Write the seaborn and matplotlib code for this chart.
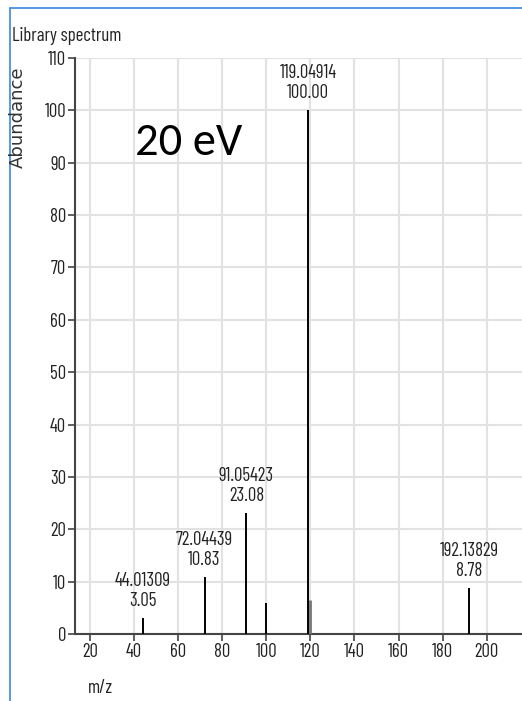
import matplotlib
matplotlib.use("Agg")
import matplotlib.pyplot as plt
from matplotlib.lines import Line2D
import seaborn as sns
import pandas as pd

# ---- data ----
mz_values = [44.01309, 72.04439, 91.05423, 100.0, 119.04914, 120.05, 192.13829]
abundance = [3.05, 10.83, 23.08, 5.9, 100.00, 6.4, 8.78]
labelled = [True, True, True, False, True, False, True]
x_ticks = [20, 40, 60, 80, 100, 120, 140, 160, 180, 200]
y_ticks = [0, 10, 20, 30, 40, 50, 60, 70, 80, 90, 100, 110]

df = pd.DataFrame({"mz": mz_values, "abundance": abundance, "labelled": labelled})

sns.set_theme(style="whitegrid")
NARROW = ["Barlow Condensed", "Archivo Narrow", "DejaVu Sans"]
plt.rcParams["font.family"] = NARROW

W, H = 522, 701
fig = plt.figure(figsize=(W / 100, H / 100), dpi=100)
fig.patch.set_facecolor("white")
ax = fig.add_axes([75 / W, 1 - 634 / H, (W - 75) / W, (634 - 58) / H])
ax.set_facecolor("white")

# stems
main = df[df["mz"] != 120.05]
minor = df[df["mz"] == 120.05]
ax.vlines(main["mz"], 0, main["abundance"], color="black", lw=1.4, zorder=3)
ax.vlines(minor["mz"], 0, minor["abundance"], color="#777777", lw=2.0, zorder=3)

for _, r in df[df["labelled"]].iterrows():
    ax.annotate(f"{r['mz']:.5f}\n{r['abundance']:.2f}", xy=(r["mz"], r["abundance"]),
                xytext=(0, 6.0), textcoords="offset points", ha="center", va="bottom",
                fontsize=13.5, linespacing=1.12, color="#222222", annotation_clip=False)

ax.set_xlim(13.3, 216.0)
ax.set_ylim(0, 110)
ax.set_xticks(x_ticks)
ax.set_yticks(y_ticks)
ax.grid(True, color="#e2e2e2", lw=1.5)
ax.set_axisbelow(True)
for s in ["top", "right"]:
    ax.spines[s].set_visible(False)
for s in ["left", "bottom"]:
    ax.spines[s].set_visible(True)
    ax.spines[s].set_color("#444444")
    ax.spines[s].set_linewidth(1.5)
ax.tick_params(axis="both", direction="out", length=5, width=1.2, color="#444444",
               labelsize=13.5, labelcolor="#222222", pad=1.5,
               left=True, bottom=True)
ax.set_xlabel("")
ax.set_ylabel("")

# figure texts
fig.text(12 / W, 1 - 41 / H, "Library spectrum", fontsize=13.5, color="#222222",
         va="baseline", ha="left")
fig.text(18 / W, 1 - 117 / H, "Abundance", rotation=90, fontsize=13,
         family=["DejaVu Sans"], color="#333333",
         ha="center", va="center")
fig.text(88 / W, 1 - 688 / H, "m/z", fontsize=13.5, color="#222222", ha="left", va="center")
fig.text(135 / W, 1 - 155 / H, "20 eV", fontsize=33.5, family=["Carlito", "DejaVu Sans"],
         color="black", ha="left", va="baseline")

# window border
fig.add_artist(Line2D([10 / W, 10 / W], [0, 1 - 8 / H], transform=fig.transFigure,
                      color="#4a90e2", lw=1.3))
fig.add_artist(Line2D([10 / W, 1], [1 - 8 / H, 1 - 8 / H], transform=fig.transFigure,
                      color="#4a90e2", lw=1.3))

fig.savefig("out.png", dpi=100)
